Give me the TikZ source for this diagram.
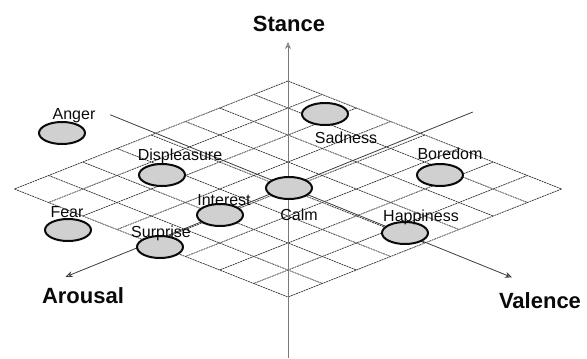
\documentclass[tikz,border=0pt]{standalone}
\usepackage{fontspec}
\setmainfont{Liberation Sans}
\usetikzlibrary{arrows.meta, positioning, shapes.geometric}
\definecolor{gridc}{HTML}{3C3C3C}
\definecolor{stancec}{HTML}{7A7A7A}
\definecolor{blobfill}{HTML}{D0D0D0}
\definecolor{ink}{HTML}{0A0A0A}
\tikzset{
  gridline/.style={draw=gridc, line width=0.75pt, dash pattern=on 2pt off 0.7pt},
  axisline/.style={-{Stealth[open, length=7pt, width=6pt]}, line width=0.8pt, draw=gridc},
  blob/.style={ellipse, draw=ink, line width=2pt, fill=blobfill,
               minimum width=46pt, minimum height=22pt, inner sep=0pt},
  emolbl/.style={font=\fontsize{16}{18}\selectfont, text=ink, inner sep=0pt, anchor=base},
  axislbl/.style={font=\fontsize{22}{24}\selectfont\bfseries, text=ink, inner sep=0pt, anchor=base}
}

\begin{document}
\begin{tikzpicture}[x=1pt, y=-1pt]
  \useasboundingbox (0,0) rectangle (587,359);

  % ---- Rhombus grid, in its own skewed frame ------------------------------
  \begin{scope}[shift={(288,189)}, x={(34.2pt,-13.5pt)}, y={(-34.2pt,-13.5pt)}]
    \foreach \k in {-4,...,4} {
      \draw[gridline] (\k,-4) -- (\k,4);
      \draw[gridline] (-4,\k) -- (4,\k);
    }
    \coordinate (valS) at (-5.35,-0.15);
    \coordinate (valE) at ( 6.55, 0);
    \coordinate (aroS) at (-0.15,-5.55);
    \coordinate (aroE) at ( 0, 6.5);
  \end{scope}
  \coordinate (staS) at (288,358);
  \coordinate (staE) at (288,42);

  % ---- Axes ----------------------------------------------------------------
  \draw[axisline] (valS) -- (valE);
  \draw[axisline] (aroS) -- (aroE);
  \draw[axisline, draw=stancec] (staS) -- (staE);

  \node[axislbl] (stance)  at (289,31)  {Stance};
  \node[axislbl] (arousal) at (83,303)  {Arousal};
  \node[axislbl] (valence) at (540,308) {Valence};

  % ---- Emotions ------------------------------------------------------------
  \node[blob] (anger)    at (62,133)  {};
  \node[blob] (displ)    at (162,175) {};
  \node[blob] (sadness)  at (325,114) {};
  \node[blob] (boredom)  at (440,175) {};
  \node[blob] (calm)     at (289,188) {};
  \node[blob] (interest) at (220,215) {};
  \node[blob] (fear)     at (68,230)  {};
  \node[blob] (surprise) at (160,247) {};
  \node[blob] (happy)    at (405,233) {};

  \node[emolbl] (angerlbl)    at (74,119)    {Anger};
  \node[emolbl] (displlbl)    at (180,160.5) {Displeasure};
  \node[emolbl] (sadnesslbl)  at (346,143)   {Sadness};
  \node[emolbl] (boredomlbl)  at (450,159)   {Boredom};
  \node[emolbl] (calmlbl)     at (299,220)   {Calm};
  \node[emolbl] (interestlbl) at (224,205)   {Interest};
  \node[emolbl] (fearlbl)     at (67,217)    {Fear};
  \node[emolbl] (surpriselbl) at (161,237)   {Surprise};
  \node[emolbl] (happylbl)    at (421,221)   {Happiness};

\end{tikzpicture}
\end{document}
